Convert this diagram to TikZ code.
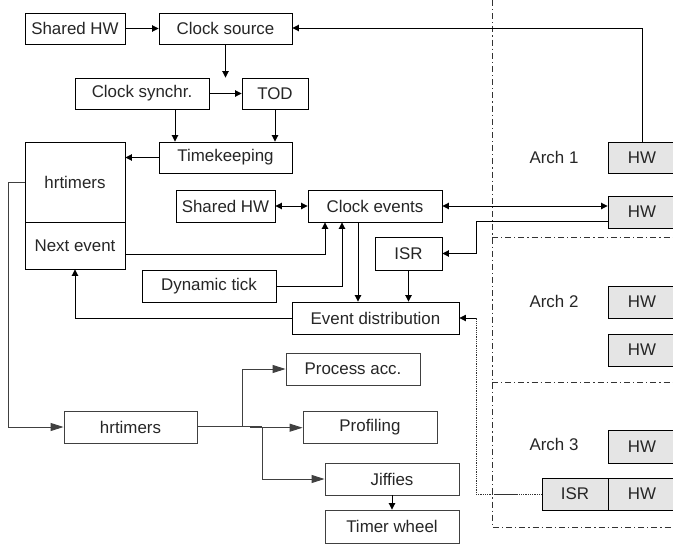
\documentclass[tikz,border=0pt]{standalone}
\usepackage{fontspec}
\setmainfont{Liberation Sans}
\usetikzlibrary{arrows.meta}
\definecolor{hwgray}{HTML}{E5E5E5}
\definecolor{lgray}{HTML}{404040}
\begin{document}
\begin{tikzpicture}[x=1pt,y=-1pt,
  box/.style={draw=black,line width=0.9pt,fill=white,rectangle,inner sep=0pt,text=black!85,font=\fontsize{16.9}{19}\selectfont},
  hwbox/.style={box,fill=hwgray,minimum width=68pt,minimum height=32pt},
  lbox/.style={box,draw=lgray},
  lbl/.style={text=black!85,font=\fontsize{16.9}{19}\selectfont},
  arr/.style={line width=0.9pt,-{Triangle[length=6.5pt,width=6.5pt]}},
  darr/.style={line width=0.9pt,{Triangle[length=6.5pt,width=6.5pt]}-{Triangle[length=6.5pt,width=6.5pt]}},
  garr/.style={line width=0.9pt,draw=lgray,-{Triangle[length=13pt,width=8pt,color=lgray]}},
  gline/.style={line width=0.9pt,draw=lgray},
  dashdot/.style={line width=0.8pt,draw=black!80,dash pattern=on 6pt off 3pt on 1.2pt off 3pt}
]
\clip (0,0) rectangle (673,544);
\fill[white] (0,0) rectangle (673,544);

% dash-dot separators
\draw[dashdot] (492,0) -- (492,527) -- (680,527);
\draw[dashdot] (492,237) -- (680,237);
\draw[dashdot] (492,382) -- (680,382);

% upper nodes
\node[box,minimum width=100pt,minimum height=31pt] (shw1) at (75,28.5) {Shared HW};
\node[box,minimum width=133pt,minimum height=31pt] (csrc) at (225.5,28.5) {Clock source};
\node[box,minimum width=134pt,minimum height=31pt] (csync) at (142,93.5) {Clock synchr.};
\node[box,minimum width=66pt,minimum height=31pt] (tod) at (275,93.5) {TOD};
\node[box,minimum width=133pt,minimum height=31pt] (tk) at (225.5,157.5) {Timekeeping};
\node[box,minimum width=100pt,minimum height=80pt] (hrt) at (75,182) {hrtimers};
\node[box,minimum width=100pt,minimum height=47pt] (next) at (75,245.5) {Next event};
\node[box,minimum width=99pt,minimum height=32pt] (shw2) at (225.5,206) {Shared HW};
\node[box,minimum width=134pt,minimum height=32pt] (cev) at (375,206) {Clock events};
\node[box,minimum width=67pt,minimum height=33pt] (isr1) at (408.5,253.5) {ISR};
\node[box,minimum width=134pt,minimum height=32pt] (dyn) at (209,286) {Dynamic tick};
\node[box,minimum width=167pt,minimum height=32pt] (edist) at (375.5,318) {Event distribution};

% arch side
\node[lbl] (arch1) at (554,157) {Arch 1};
\node[lbl] (arch2) at (554,301) {Arch 2};
\node[lbl] (arch3) at (554,444) {Arch 3};
\node[hwbox,minimum height=31pt] (hw1) at (642,157.5) {HW};
\node[hwbox] (hw2) at (642,212) {HW};
\node[hwbox] (hw3) at (642,302) {HW};
\node[hwbox] (hw4) at (642,350) {HW};
\node[hwbox,minimum height=33pt] (hw5) at (642,446.5) {HW};
\node[hwbox] (hw6) at (642,494) {HW};
\node[box,fill=hwgray,minimum width=66pt,minimum height=32pt] (isr2) at (575,494) {ISR};

% lower nodes
\node[lbox,minimum width=133pt,minimum height=32pt] (hrt2) at (130.5,427) {hrtimers};
\node[lbox,minimum width=134pt,minimum height=32pt] (pacc) at (353,369) {Process acc.};
\node[lbox,minimum width=134pt,minimum height=32pt] (prof) at (370,427) {Profiling};
\node[lbox,minimum width=134pt,minimum height=32pt] (jiff) at (392,479) {Jiffies};
\node[lbox,minimum width=134pt,minimum height=33pt] (twheel) at (392,526.5) {Timer wheel};

% upper connectors
\draw[arr] (shw1) -- (csrc);
\draw[arr] (hw1.north) |- ([yshift=0.5pt]csrc.east);
\draw[arr] (csrc.south) -- (csync.north -| csrc.south);
\draw[arr] (csync) -- (tod);
\draw[arr] (csync.south -| 175,0) -- (tk.north -| 175,0);
\draw[arr] (tod.south) -- (tk.north -| tod.south);
\draw[arr] (tk.west) -- (hrt.east |- tk.west);
\draw[darr] (shw2) -- (cev);
\draw[darr] (cev.east) -- (hw2.west |- cev.east);
\draw[arr] (hw2.west |- 0,221) -| (476,253.5) -- (isr1.east);
\draw[arr] (next.east |- 0,254) -| (cev.south -| 325,0);
\draw[arr] (dyn.east) -| (cev.south -| 342,0);
\draw[arr] (cev.south -| 358,0) -- (edist.north -| 358,0);
\draw[arr] (isr1.south) -- (edist.north -| isr1.south);
\draw[arr] (edist.west) -| (next.south);
\draw[line width=0.8pt,draw=black!80,densely dotted] (isr2.west) -- (476,494) -- (476,318);
\draw[line width=0.8pt,draw=black!80] (495,494) -- (517,494);
\draw[arr,line width=0.8pt] (476,318) -- (edist.east);

% lower connectors
\draw[garr] (hrt.west |- 0,182) -- (8,182) |- (hrt2.west);
\draw[gline] (hrt2.east |- 0,426.3) -- (262,426.3);
\draw[garr] (242,426.3) |- (pacc.west);
\draw[garr] (250,427.7) -- (prof.west |- 0,427.7);
\draw[garr] (262,427.7) |- (jiff.west);
\draw[arr] (jiff.south) -- (twheel.north);
\end{tikzpicture}
\end{document}
